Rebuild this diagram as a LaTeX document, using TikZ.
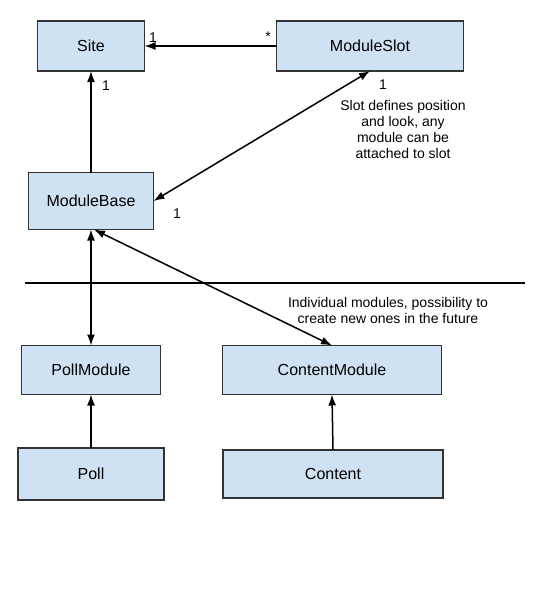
\documentclass[tikz,border=0pt]{standalone}
\usepackage{fontspec}
\setmainfont{Liberation Sans}
\usetikzlibrary{arrows.meta}

\begin{document}
\begin{tikzpicture}[x=1pt,y=-1pt,
    cls/.style={draw=black!80, line width=1.4pt, fill=boxblue, outer sep=0pt,
        inner sep=0pt, font=\fontsize{16}{18}\selectfont},
    rel/.style={line width=1.5pt, -{Latex[length=11pt,width=8pt]}},
    biRel/.style={line width=1.5pt, {Latex[length=11pt,width=8pt]}-{Latex[length=11pt,width=8pt]}},
    note/.style={align=center, font=\fontsize{14}{16}\selectfont},
    mult/.style={font=\fontsize{14}{16}\selectfont}]
    \definecolor{boxblue}{HTML}{CFE2F3}
    \useasboundingbox[fill=white] (0,0) rectangle (540,602);

    % Klassen oben
    \node[cls, minimum width=107, minimum height=50] (site) at (91,46) {Site};
    \node[cls, minimum width=187, minimum height=50] (slot) at (370,46) {ModuleSlot};
    \node[cls, minimum width=125, minimum height=57] (base) at (91,201) {ModuleBase};

    % Trennlinie
    \coordinate (sepL) at (25,283);
    \coordinate (sepR) at (525,283);
    \draw[line width=1.5pt] (sepL) -- (sepR);

    % einzelne Module
    \node[cls, minimum width=139, minimum height=49] (pollMod) at (91,370) {PollModule};
    \node[cls, minimum width=219, minimum height=49] (contMod) at (332,370) {ContentModule};
    \node[cls, minimum width=146, minimum height=52] (poll) at (91,474) {Poll};
    \node[cls, minimum width=220, minimum height=48] (cont) at (333,474) {Content};

    % Beziehungen
    \draw[rel] (slot.west) -- (site.east);
    \draw[rel] (base.north) -- (site.south);
    \draw[biRel] (base.east) -- (slot.south);
    \draw[biRel] (pollMod.north) -- (base.south);
    \draw[biRel] ([xshift=3pt]base.south) -- (contMod.north);
    \draw[rel] (poll.north) -- (pollMod.south);
    \draw[rel] (cont.north) -- (contMod.south);

    % Multiplizitaeten
    \node[mult] (mSite) at (153,38) {1};
    \node[mult] (mStar) at (268,37) {*};
    \node[mult] (mSiteB) at (106,86) {1};
    \node[mult] (mSlot) at (383,85) {1};
    \node[mult] (mBase) at (177,214) {1};

    % Anmerkungen
    \node[note] (slotNote) at (403,129) {Slot defines position\\and look, any\\module can be\\attached to slot};
    \node[note] (modNote) at (388,310) {Individual modules, possibility to\\create new ones in the future};
\end{tikzpicture}
\end{document}
